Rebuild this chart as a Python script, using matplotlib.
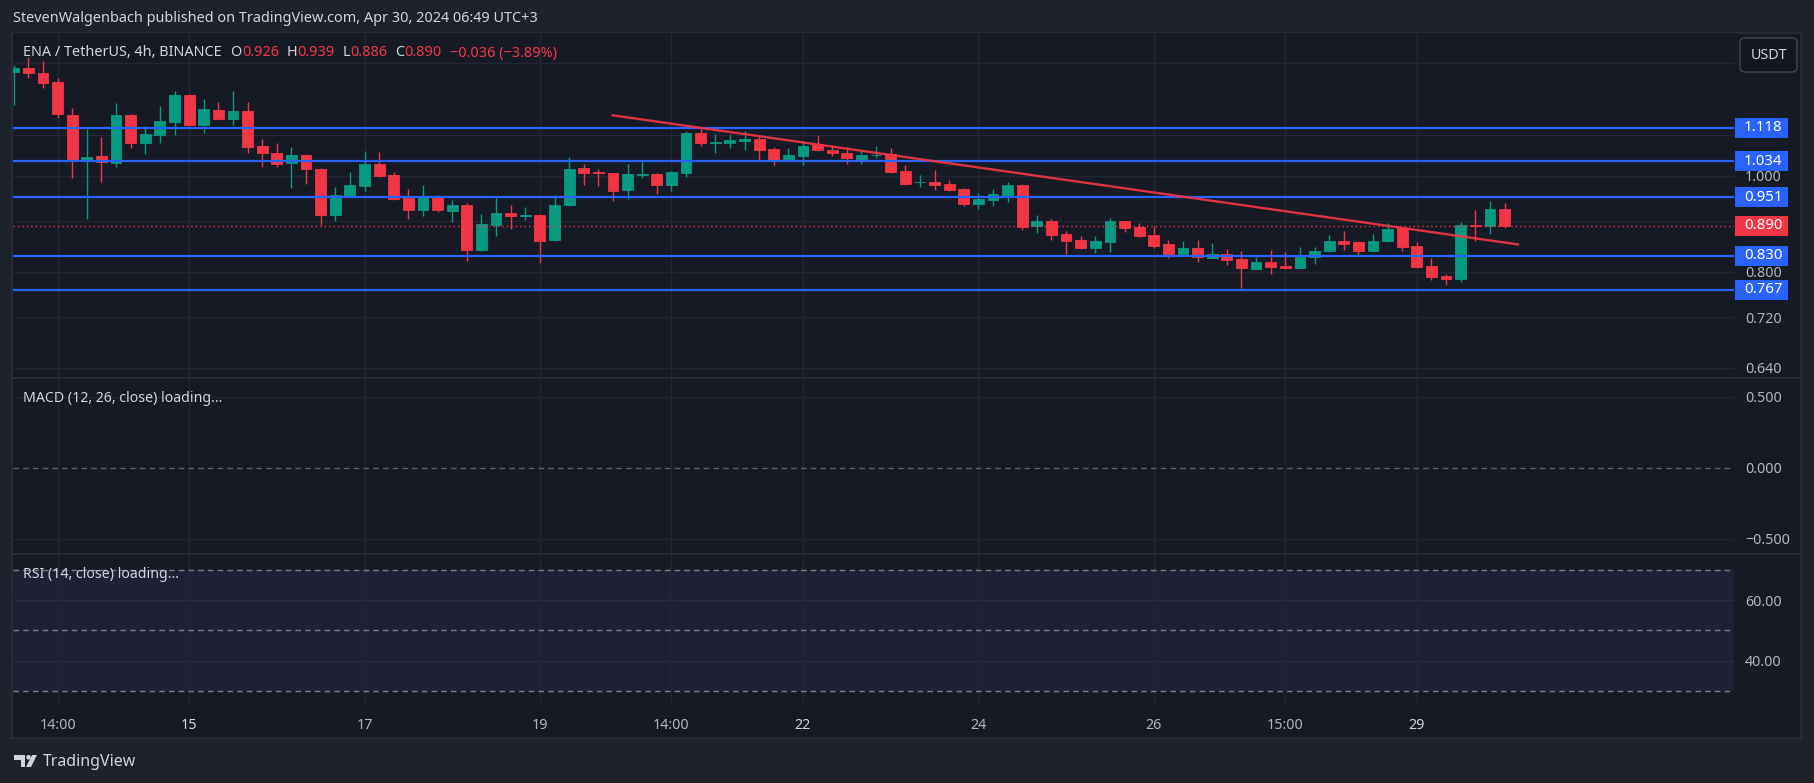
import matplotlib
matplotlib.use("Agg")
import matplotlib.pyplot as plt
from matplotlib.patches import Rectangle, FancyBboxPatch, Polygon, Circle
from matplotlib.lines import Line2D
from matplotlib.transforms import IdentityTransform
from matplotlib.ticker import FixedLocator, NullLocator, FuncFormatter

plt.rcParams["font.family"] = ["Noto Sans", "DejaVu Sans"]

W, H = 1814, 783

# ENA/USDT 4h candles
opens = [1.273, 1.285, 1.270, 1.243, 1.151, 1.035, 1.047, 1.030, 1.151, 1.080,
         1.099, 1.133, 1.206, 1.126, 1.165, 1.142, 1.162, 1.071, 1.054, 1.030,
         1.049, 1.016, 0.913, 0.953, 0.977, 1.027, 1.002, 0.950, 0.924, 0.952,
         0.921, 0.934, 0.841, 0.892, 0.917, 0.911, 0.913, 0.861, 0.934, 1.018,
         1.009, 1.006, 0.967, 1.002, 1.004, 0.979, 1.006, 1.104, 1.080, 1.079,
         1.084, 1.089, 1.064, 1.035, 1.047, 1.076, 1.061, 1.054, 1.040, 1.048,
         1.052, 1.011, 0.985, 0.986, 0.981, 0.970, 0.936, 0.945, 0.954, 0.979,
         0.890, 0.900, 0.873, 0.861, 0.845, 0.857, 0.900, 0.888, 0.871, 0.853,
         0.834, 0.845, 0.826, 0.834, 0.824, 0.805, 0.818, 0.810, 0.807, 0.828,
         0.840, 0.859, 0.857, 0.840, 0.859, 0.886, 0.849, 0.810, 0.792, 0.786,
         0.892, 0.890, 0.926]
highs = [1.294, 1.318, 1.304, 1.256, 1.171, 1.115, 1.094, 1.183, 1.153, 1.122,
         1.176, 1.217, 1.209, 1.196, 1.187, 1.217, 1.188, 1.088, 1.079, 1.069,
         1.051, 1.018, 0.974, 1.009, 1.059, 1.057, 1.009, 0.970, 0.979, 0.956,
         0.945, 0.939, 0.915, 0.950, 0.934, 0.930, 0.915, 0.956, 1.044, 1.028,
         1.016, 1.007, 1.028, 1.037, 1.006, 1.010, 1.109, 1.117, 1.102, 1.102,
         1.110, 1.099, 1.069, 1.067, 1.084, 1.099, 1.074, 1.069, 1.059, 1.071,
         1.067, 1.025, 1.002, 1.013, 0.990, 0.972, 0.960, 0.970, 0.986, 0.981,
         0.913, 0.904, 0.879, 0.869, 0.869, 0.906, 0.901, 0.896, 0.890, 0.861,
         0.859, 0.861, 0.855, 0.843, 0.840, 0.828, 0.841, 0.838, 0.847, 0.847,
         0.871, 0.879, 0.859, 0.873, 0.896, 0.888, 0.857, 0.826, 0.796, 0.898,
         0.923, 0.943, 0.939]
lows = [1.178, 1.256, 1.227, 1.143, 0.995, 0.904, 0.986, 1.021, 1.067, 1.052,
        1.080, 1.099, 1.122, 1.105, 1.140, 1.126, 1.055, 1.021, 1.021, 0.972,
        0.981, 0.892, 0.900, 0.952, 0.964, 0.998, 0.946, 0.905, 0.911, 0.919,
        0.897, 0.820, 0.840, 0.869, 0.884, 0.903, 0.816, 0.860, 0.932, 0.979,
        0.977, 0.943, 0.947, 0.995, 0.958, 0.965, 0.997, 1.072, 1.054, 1.067,
        1.061, 1.037, 1.025, 1.035, 1.025, 1.060, 1.047, 1.027, 1.027, 1.042,
        1.007, 0.979, 0.974, 0.967, 0.965, 0.932, 0.925, 0.932, 0.941, 0.881,
        0.875, 0.861, 0.834, 0.843, 0.836, 0.838, 0.877, 0.867, 0.845, 0.826,
        0.834, 0.818, 0.826, 0.813, 0.770, 0.805, 0.796, 0.805, 0.806, 0.815,
        0.838, 0.841, 0.832, 0.838, 0.857, 0.840, 0.807, 0.785, 0.776, 0.781,
        0.859, 0.873, 0.886]
closes = [1.285, 1.268, 1.241, 1.155, 1.035, 1.045, 1.032, 1.151, 1.080, 1.102,
          1.135, 1.206, 1.126, 1.168, 1.142, 1.162, 1.069, 1.055, 1.028, 1.049,
          1.016, 0.913, 0.956, 0.979, 1.027, 1.000, 0.947, 0.924, 0.952, 0.924,
          0.934, 0.841, 0.894, 0.917, 0.911, 0.913, 0.860, 0.934, 1.016, 1.006,
          1.007, 0.966, 1.004, 1.004, 0.979, 1.009, 1.104, 1.079, 1.082, 1.087,
          1.089, 1.061, 1.035, 1.049, 1.071, 1.061, 1.054, 1.042, 1.049, 1.049,
          1.009, 0.981, 0.986, 0.979, 0.967, 0.936, 0.947, 0.958, 0.979, 0.888,
          0.900, 0.871, 0.859, 0.845, 0.859, 0.900, 0.886, 0.869, 0.849, 0.834,
          0.845, 0.828, 0.834, 0.822, 0.807, 0.818, 0.808, 0.807, 0.828, 0.840,
          0.859, 0.853, 0.840, 0.859, 0.884, 0.847, 0.808, 0.790, 0.786, 0.892,
          0.890, 0.926, 0.890]

price_ticks = [0.64, 0.72, 0.80, 0.90, 1.00, 1.10, 1.30]
hidden_ticks = [0.90, 1.10, 1.30]   # covered by the level tags / currency box
levels = [1.118, 1.034, 0.951, 0.830, 0.767]
last_price = 0.890
trend_idx = [40.9, 103.0]
trend_price = [1.151, 0.852]
time_idx = [3, 12, 24, 36, 45, 54, 66, 78, 87, 96]
time_labels = ["14:00", "15", "17", "19", "14:00", "22", "24", "26", "15:00", "29"]
bold_labels = ["15", "22", "29"]
macd_ticks = [0.5, 0.0, -0.5]
rsi_ticks = [60, 40]
rsi_lines = [70, 50, 30]

OUTER = "#1e222d"
PANE = "#161a25"
GRID = "#232632"
BORDER = "#2a2e39"
TXT = "#b2b5be"
LIGHT = "#d1d4dc"
UP = "#089981"
DOWN = "#f23645"
BLUE = "#2962ff"
FS = 10.3

fig = plt.figure(figsize=(W / 100, H / 100), dpi=100, facecolor=OUTER)
fig.add_artist(Rectangle((12, H - 738), 1789, 705, transform=IdentityTransform(),
                         fc=PANE, ec=BORDER, lw=1.2, zorder=-1))


def px_axes(x0, y0, x1, y1):
    a = fig.add_axes([x0 / W, 1 - y1 / H, (x1 - x0) / W, (y1 - y0) / H])
    a.set_facecolor(PANE)
    for s in a.spines.values():
        s.set_visible(False)
    a.set_xlim(-0.05, 117.7)
    a.xaxis.set_major_locator(FixedLocator(time_idx))
    a.tick_params(axis="x", length=0, labelbottom=False)
    a.yaxis.tick_right()
    a.tick_params(axis="y", length=0, pad=8, labelcolor=TXT, labelsize=FS)
    a.grid(True, axis="x", color=GRID, lw=1)
    return a


# ---- price pane
ax = px_axes(13, 33, 1734, 378)
ax.set_yscale("log")
ax.set_ylim(0.6249, 1.393)
ax.yaxis.set_major_locator(FixedLocator(price_ticks))
ax.yaxis.set_minor_locator(NullLocator())
ax.yaxis.set_major_formatter(
    FuncFormatter(lambda v, p: "" if any(abs(v - h) < 1e-9 for h in hidden_ticks) else f"{v:.3f}"))
ax.grid(True, axis="y", color=GRID, lw=1)

idx = list(range(len(opens)))
cols = [UP if c >= o else DOWN for o, c in zip(opens, closes)]
ax.vlines(idx, lows, highs, colors=cols, lw=1.0, zorder=2)
bottoms = [min(o, c) for o, c in zip(opens, closes)]
heights = [abs(c - o) for o, c in zip(opens, closes)]
ax.bar(idx, heights, bottom=bottoms, width=0.74, color=cols, edgecolor=cols,
       lw=0.6, zorder=3)

for lv in levels:
    ax.axhline(lv, color=BLUE, lw=1.6, zorder=4)
ax.axhline(last_price, color=DOWN, lw=1.0, ls=(0, (1, 2.2)), zorder=4)
ax.plot(trend_idx, trend_price, color=DOWN, lw=1.7, alpha=0.9, zorder=5,
        solid_capstyle="butt")


def tag(a, price, txt, fc):
    yd = a.transData.transform((0, price))[1]
    fig.add_artist(Rectangle((1735, yd - 10), 53, 20, transform=IdentityTransform(),
                             fc=fc, ec="none", zorder=5))
    fig.text(1744 / W, yd / H, txt, color="white", fontsize=10.8, va="center",
             ha="left", zorder=6)


for lv in levels:
    tag(ax, lv, f"{lv:.3f}", BLUE)
tag(ax, last_price, f"{last_price:.3f}", DOWN)

# currency box
fig.add_artist(FancyBboxPatch((1740, H - 72), 57, 34, boxstyle="round,pad=0,rounding_size=5",
                              transform=IdentityTransform(), fc="#131722", ec="#434651",
                              lw=1, zorder=5))
fig.text(1768.5 / W, 1 - 55.5 / H, "USDT", color=LIGHT, fontsize=FS, ha="center",
         va="center", zorder=6)

# ---- MACD pane
am = px_axes(13, 378, 1734, 554)
am.set_ylim(-0.608, 0.632)
am.set_yticks(macd_ticks)
am.set_yticklabels([f"{v:.3f}".replace("-", "\u2212") for v in macd_ticks])
for v in macd_ticks:
    if v == 0:
        am.axhline(v, color="#5d606b", lw=1, ls=(0, (4, 3)))
    else:
        am.axhline(v, color=GRID, lw=1)

# ---- RSI pane
ar = px_axes(13, 554, 1734, 703)
ar.set_ylim(26.0, 75.3)
ar.set_yticks(rsi_ticks)
ar.set_yticklabels([f"{v:.2f}" for v in rsi_ticks])
ar.axhspan(rsi_lines[-1], rsi_lines[0], color="#7e57c2", alpha=0.1, lw=0)
for v in rsi_ticks:
    ar.axhline(v, color="#2c2a40", lw=1)
for v in rsi_lines:
    ar.axhline(v, color="#787b86", lw=1, ls=(0, (4, 3)))
ar.tick_params(axis="x", labelbottom=True, pad=11, labelcolor=TXT, labelsize=FS)
ar.set_xticklabels(time_labels)
for t in ar.get_xticklabels():
    if t.get_text() in bold_labels:
        t.set_fontweight("bold")
        t.set_color(LIGHT)

# pane separators
for yy in (378, 554):
    fig.add_artist(Line2D([12, 1801], [H - yy, H - yy], transform=IdentityTransform(),
                          color=BORDER, lw=1.2, zorder=4))

# ---- texts
fig.text(13 / W, 1 - 18 / H, "StevenWalgenbach published on TradingView.com, Apr 30, 2024 06:49 UTC+3",
         color=LIGHT, fontsize=10.4, va="center", ha="left")

rend = fig.canvas.get_renderer()
parts = [("ENA / TetherUS, 4h, BINANCE", LIGHT, 9), ("O", LIGHT, 0), ("0.926", DOWN, 8),
         ("H", LIGHT, 0), ("0.939", DOWN, 8), ("L", LIGHT, 0), ("0.886", DOWN, 8),
         ("C", LIGHT, 0), ("0.890", DOWN, 8), ("\u22120.036 (\u22123.89%)", DOWN, 0)]
xx = 23
for s, c, gap in parts:
    t = fig.text(xx / W, 1 - 53 / H, s, color=c, fontsize=10.4, va="center", ha="left")
    xx += t.get_window_extent(renderer=rend).width + gap

fig.text(23 / W, 1 - 399 / H, "MACD (12, 26, close) loading...", color=LIGHT,
         fontsize=10.2, va="center", ha="left")
fig.text(23 / W, 1 - 575 / H, "RSI (14, close) loading...", color=LIGHT,
         fontsize=10.2, va="center", ha="left")

# TradingView logo
fig.add_artist(Polygon([(13.5, H - 755), (25, H - 755), (25, H - 767), (20.5, H - 767),
                        (20.5, H - 759.5), (13.5, H - 759.5)], closed=True,
                       transform=IdentityTransform(), fc=LIGHT, ec="none"))
fig.add_artist(Circle((28.5, H - 757.3), 2.3, transform=IdentityTransform(), fc=LIGHT, ec="none"))
fig.add_artist(Polygon([(32, H - 755), (37, H - 755), (31, H - 767), (26, H - 767)], closed=True,
                       transform=IdentityTransform(), fc=LIGHT, ec="none"))
fig.text(43 / W, 1 - 761.5 / H, "TradingView", color=LIGHT, fontsize=11.5, va="center",
         ha="left")

fig.savefig("out.png", dpi=100, facecolor=OUTER)
